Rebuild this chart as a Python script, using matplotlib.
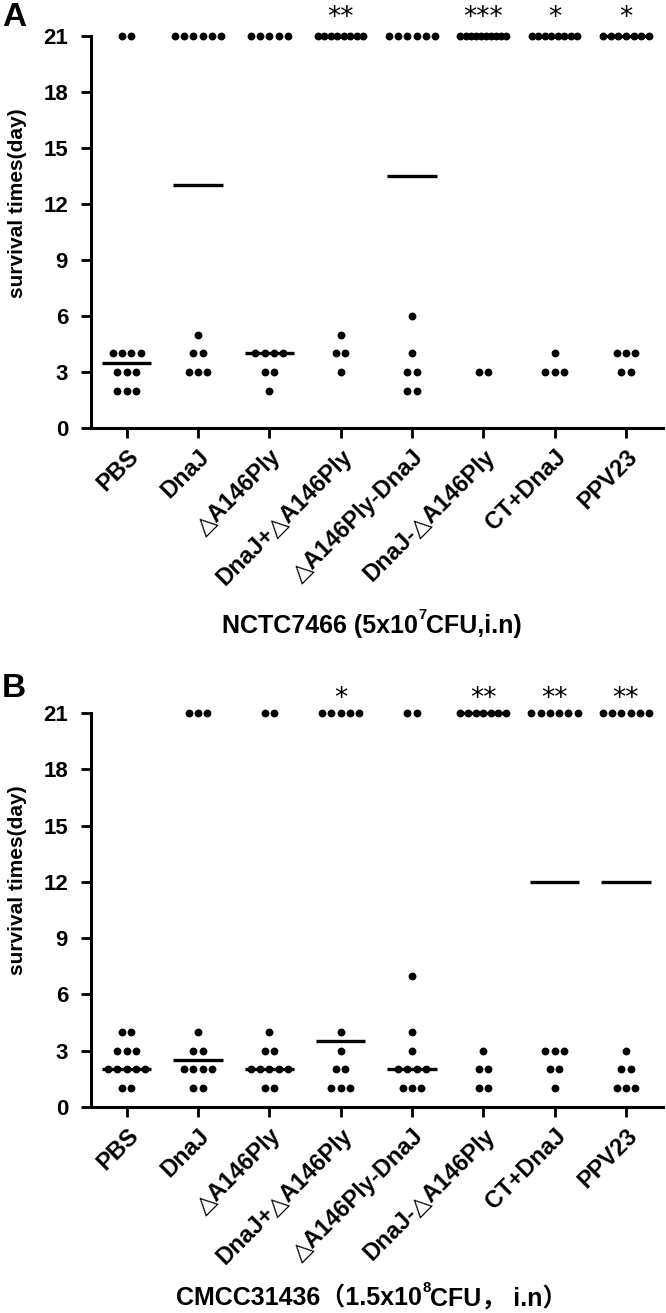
import numpy as np
import matplotlib
matplotlib.use("Agg")
import matplotlib.pyplot as plt

FAM = ['Liberation Sans', 'DejaVu Sans', 'Noto Sans CJK SC']
plt.rcParams['font.family'] = FAM

groups = ["PBS", "DnaJ", "△A146Ply", "DnaJ+△A146Ply", "△A146Ply-DnaJ",
          "DnaJ-△A146Ply", "CT+DnaJ", "PPV23"]

# Panel A: survival times (days) per group
A_PBS = [21, 21, 4, 4, 4, 4, 3, 3, 3, 2, 2, 2]
A_DnaJ = [21, 21, 21, 21, 21, 21, 5, 4, 4, 3, 3, 3]
A_Ply = [21, 21, 21, 21, 21, 4, 4, 4, 4, 3, 3, 2]
A_DnaJ_plus_Ply = [21, 21, 21, 21, 21, 21, 21, 21, 5, 4, 4, 3]
A_Ply_DnaJ = [21, 21, 21, 21, 21, 21, 6, 4, 3, 3, 2, 2]
A_DnaJ_Ply = [21, 21, 21, 21, 21, 21, 21, 21, 21, 21, 3, 3]
A_CT_DnaJ = [21, 21, 21, 21, 21, 21, 21, 21, 4, 3, 3, 3]
A_PPV23 = [21, 21, 21, 21, 21, 21, 21, 4, 4, 4, 3, 3]
A_sig = ["", "", "", "**", "", "***", "*", "*"]

# Panel B
B_PBS = [4, 4, 3, 3, 3, 2, 2, 2, 2, 2, 1, 1]
B_DnaJ = [21, 21, 21, 4, 3, 3, 2, 2, 2, 2, 1, 1]
B_Ply = [21, 21, 4, 3, 3, 2, 2, 2, 2, 2, 1, 1]
B_DnaJ_plus_Ply = [21, 21, 21, 21, 21, 4, 3, 2, 2, 1, 1, 1]
B_Ply_DnaJ = [21, 21, 7, 4, 3, 2, 2, 2, 2, 1, 1, 1]
B_DnaJ_Ply = [21, 21, 21, 21, 21, 21, 21, 3, 2, 2, 1, 1]
B_CT_DnaJ = [21, 21, 21, 21, 21, 21, 3, 3, 3, 2, 2, 1]
B_PPV23 = [21, 21, 21, 21, 21, 21, 3, 2, 2, 1, 1, 1]
B_sig = ["", "", "", "*", "", "**", "**", "**"]

A_data = [A_PBS, A_DnaJ, A_Ply, A_DnaJ_plus_Ply, A_Ply_DnaJ, A_DnaJ_Ply, A_CT_DnaJ, A_PPV23]
B_data = [B_PBS, B_DnaJ, B_Ply, B_DnaJ_plus_Ply, B_Ply_DnaJ, B_DnaJ_Ply, B_CT_DnaJ, B_PPV23]

A_title = ("NCTC7466 (5x10", "7", "CFU,i.n)")
B_title = ("CMCC31436（1.5x10", "8", "CFU， i.n）")

W, H = 666, 1313
fig = plt.figure(figsize=(W / 100, H / 100), dpi=100)
renderer = fig.canvas.get_renderer()

def px_axes(left, right, top, bottom):
    return fig.add_axes([left / W, 1 - bottom / H, (right - left) / W, (bottom - top) / H])

TICK_FS = 16
XLAB_FS = 17
YLAB_FS = 15
TITLE_FS = 18

def place_title(parts, cx, cy):
    main, sup, rest = parts
    sizes = [TITLE_FS, TITLE_FS * 0.6, TITLE_FS]
    widths = []
    for s, fs in zip((main, sup, rest), sizes):
        t = fig.text(0, 0, s, fontsize=fs, fontweight='bold')
        widths.append(t.get_window_extent(renderer).width)
        t.remove()
    total = sum(widths)
    x = cx - total / 2
    offs = [0, TITLE_FS * 0.55 * 100 / 72, 0]
    for s, fs, w, o in zip((main, sup, rest), sizes, widths, offs):
        fig.text(x / W, 1 - (cy - o) / H, s, fontsize=fs, fontweight='bold',
                 ha='left', va='baseline')
        x += w

def draw_panel(ax, data, sig, sig_off, title, letter, letter_y, title_y, ylab_y):
    for i, vals in enumerate(data):
        vals = np.array(vals)
        for v in np.unique(vals):
            n = int((vals == v).sum())
            sp = 0.13 if n <= 6 else min(0.13, 0.64 / (n - 1))
            offs = (np.arange(n) - (n - 1) / 2) * sp
            ax.scatter(i + offs, np.full(n, v), s=32, color='black', zorder=3,
                       clip_on=False, linewidths=0)
        med = np.median(vals)
        ax.plot([i - 0.345, i + 0.345], [med, med], color='black', lw=2.4,
                solid_capstyle='butt', clip_on=False, zorder=4)
        if sig[i]:
            ax.text(i, 21 + sig_off, sig[i], ha='center', va='center', fontsize=19,
                    family=['DejaVu Sans'])
    ax.set_xlim(-0.5, 7.52)
    ax.set_ylim(0, 21)
    ax.set_yticks([0, 3, 6, 9, 12, 15, 18, 21])
    ax.set_xticks(range(8))
    ax.set_xticklabels(groups, rotation=45, ha='right', rotation_mode='anchor',
                       fontsize=XLAB_FS, fontweight='bold')
    for lab in ax.get_yticklabels():
        lab.set_fontsize(TICK_FS)
        lab.set_fontweight('bold')
    for s in ['top', 'right']:
        ax.spines[s].set_visible(False)
    for s in ['left', 'bottom']:
        ax.spines[s].set_linewidth(2.2)
    ax.tick_params(axis='y', direction='out', length=7.5, width=2.0, pad=9)
    ax.tick_params(axis='x', direction='out', length=7.5, width=2.0, pad=5)
    ax.set_ylabel("survival times(day)", fontsize=YLAB_FS, fontweight='bold',
                  va='center')
    ax.yaxis.set_label_coords((18 - 91) / 572, ylab_y)
    place_title(title, 372, title_y)
    fig.text(14 / W, 1 - letter_y / H, letter, ha='center', va='center',
             fontsize=24, fontweight='bold')

axA = px_axes(91, 663, 36, 428)
draw_panel(axA, A_data, A_sig, 0.95, A_title, "A", 18, 633, 0.574)

axB = px_axes(91, 663, 713, 1107)
draw_panel(axB, B_data, B_sig, 0.75, B_title, "B", 688, 1306, 0.576)

fig.savefig("out.png", dpi=100)
